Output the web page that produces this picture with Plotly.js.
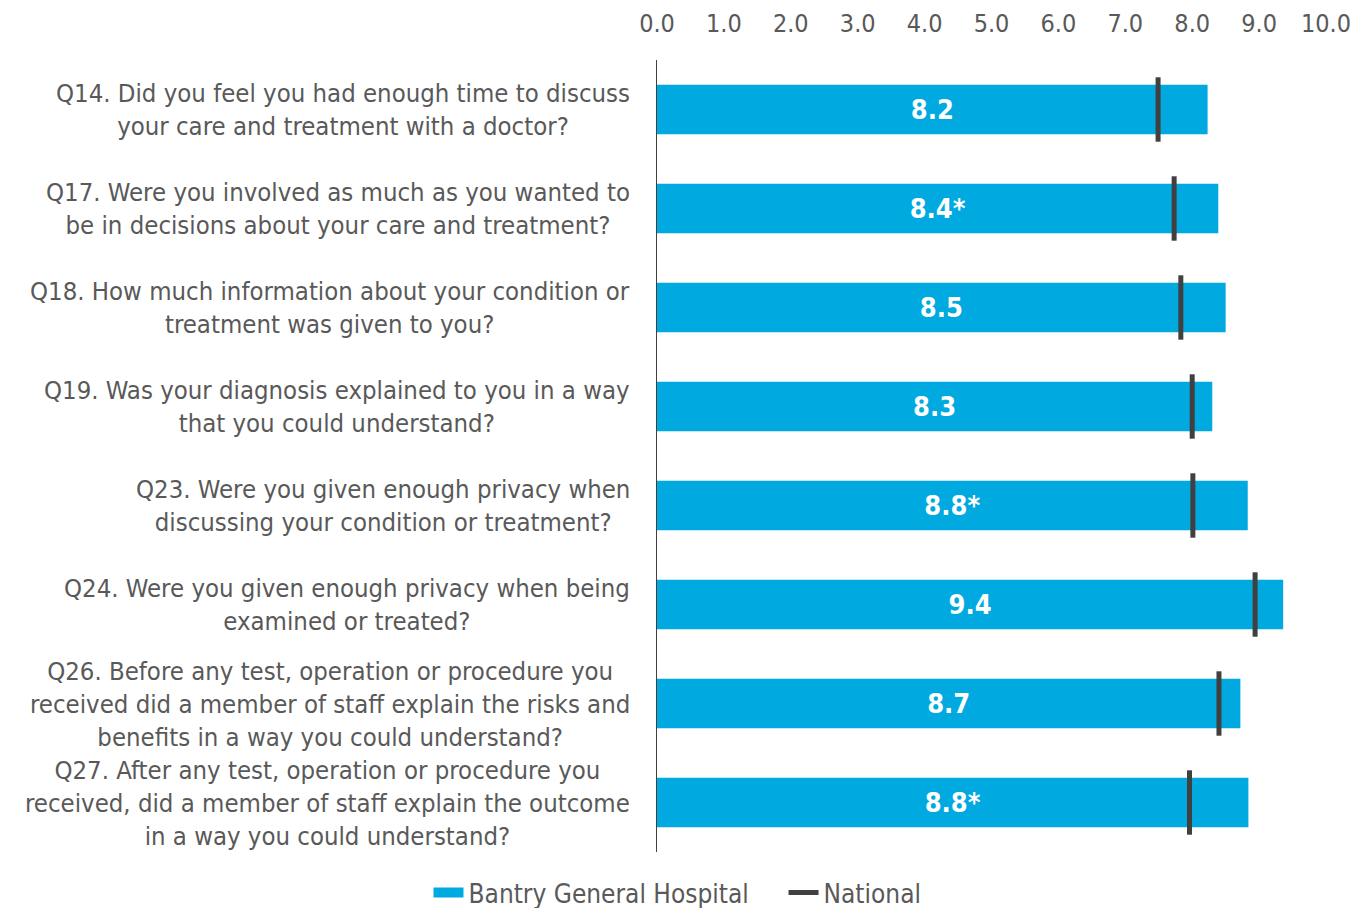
<!DOCTYPE html>
<html>
<head>
<meta charset="utf-8">
<script src="https://cdn.plot.ly/plotly-3.0.1.min.js"></script>
<style>html,body{margin:0;padding:0;background:#fff;}#chart{width:1355px;height:908px;}</style>
</head>
<body>
<div id="chart"></div>
<script>
const categories = [
  "Q14. Did you feel you had enough time to discuss<br>your care and treatment with a doctor?",
  "Q17. Were you involved as much as you wanted to<br>be in decisions about your care and treatment?",
  "Q18. How much information about your condition or<br>treatment was given to you?",
  "Q19. Was your diagnosis explained to you in a way<br>that you could understand?",
  "Q23. Were you given enough privacy when<br>discussing your condition or treatment?",
  "Q24. Were you given enough privacy when being<br>examined or treated?",
  "Q26. Before any test, operation or procedure you<br>received did a member of staff explain the risks and<br>benefits in a way you could understand?",
  "Q27. After any test, operation or procedure you<br>received, did a member of staff explain the outcome<br>in a way you could understand?"
];
const hospitalScores = [8.23, 8.39, 8.50, 8.30, 8.83, 9.36, 8.72, 8.84];
const nationalScores = [7.49, 7.73, 7.83, 8.00, 8.01, 8.94, 8.40, 7.96];
const barLabels = ["8.2", "8.4*", "8.5", "8.3", "8.8*", "9.4", "8.7", "8.8*"];
const tickVals = [0,1,2,3,4,5,6,7,8,9,10];
const tickText = ["0.0","1.0","2.0","3.0","4.0","5.0","6.0","7.0","8.0","9.0","10.0"];
const seriesNames = ["Bantry General Hospital", "National"];

const FONT = "Tahoma, 'DejaVu Sans Condensed', 'DejaVu Sans', sans-serif";
const GREY = "#595959";
const BLUE = "#00A9E0";
const DARK = "#404040";
const PAD = "\u00a0\u00a0\u00a0\u00a0";

const traces = [
  {
    type: "bar", orientation: "h",
    x: hospitalScores, y: categories,
    name: seriesNames[0],
    showlegend: false,
    marker: {color: BLUE},
    width: 0.5,
    text: barLabels,
    textposition: "inside",
    insidetextanchor: "middle",
    textfont: {color: "#ffffff", size: 27, family: FONT, weight: "bold"},
    hoverinfo: "x+y"
  },
  {
    type: "scatter", mode: "markers",
    x: nationalScores, y: categories,
    name: seriesNames[1],
    showlegend: false,
    marker: {symbol: "line-ns", size: 46, color: DARK, line: {color: DARK, width: 5}},
    hoverinfo: "x+y"
  },
  {
    type: "scatter", mode: "lines",
    x: [null], y: [null],
    name: seriesNames[0] + PAD,
    line: {color: BLUE, width: 13}
  },
  {
    type: "scatter", mode: "lines",
    x: [null], y: [null],
    name: seriesNames[1],
    line: {color: DARK, width: 5}
  }
];

const annotations = categories.map(c => ({
  x: 0, xref: "paper", xanchor: "right", xshift: -25,
  y: c, yref: "y", yanchor: "middle",
  text: c, align: "center", showarrow: false,
  font: {family: FONT, size: 25.5, color: GREY}
}));

const layout = {
  width: 1355, height: 908,
  margin: {l: 657, r: 29, t: 60, b: 56},
  paper_bgcolor: "#ffffff", plot_bgcolor: "#ffffff",
  font: {family: FONT, size: 24, color: GREY},
  xaxis: {
    side: "top", range: [0, 10], tickvals: tickVals, ticktext: tickText,
    showgrid: false, zeroline: false, showline: false, ticks: "",
    ticklabelstandoff: 22,
    tickfont: {family: FONT, size: 25, color: GREY}, fixedrange: true
  },
  yaxis: {
    type: "category", range: [7.5, -0.5],
    showticklabels: false, showgrid: false, zeroline: false,
    showline: true, linecolor: DARK, linewidth: 1.5, ticks: ""
  },
  showlegend: true,
  legend: {
    orientation: "h", xref: "container", yref: "container",
    x: 0.5, xanchor: "center", y: 0.017, yanchor: "middle",
    font: {family: FONT, size: 26, color: GREY},
    traceorder: "normal", itemwidth: 30
  },
  annotations: annotations
};

Plotly.newPlot("chart", traces, layout, {displayModeBar: false, staticPlot: true});
</script>
</body>
</html>
